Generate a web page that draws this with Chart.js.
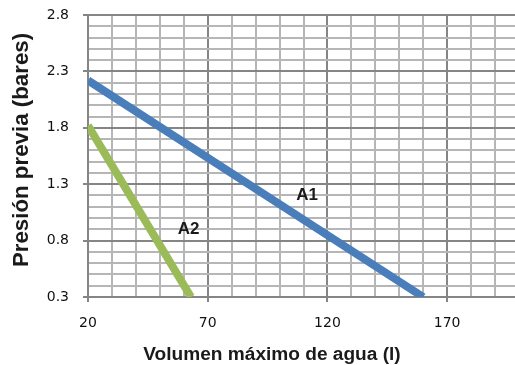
<!DOCTYPE html>
<html>
<head>
<meta charset="utf-8">
<script src="https://cdn.jsdelivr.net/npm/chart.js@4"></script>
<style>
  html, body { margin: 0; padding: 0; background: #fff; overflow: hidden; }
  #wrap { width: 522px; height: 365px; }
</style>
</head>
<body>
<div id="wrap"><canvas id="chart"></canvas></div>
<script>
// series A1 and A2 (volume in litres, pre-pressure in bar)
const a1X = [20, 160];
const a1Y = [2.22, 0.3];
const a2X = [20, 63];
const a2Y = [1.82, 0.3];

const xTickLabels = [20, 70, 120, 170];
const yTickLabels = [0.3, 0.8, 1.3, 1.8, 2.3, 2.8];

const lineNames = ['A1', 'A2'];
const lineNamePos = [[111.5, 1.2], [62, 0.9]];

const xTitle = 'Volumen máximo de agua (l)';
const yTitle = 'Presión previa (bares)';

function isMajor(v, list) {
  return list.some(t => Math.abs(t - v) < 1e-6);
}

// bold font sized so the text spans the given width
function fitFont(ctx, text, width) {
  ctx.font = 'bold 20px "Liberation Sans", Arial, sans-serif';
  const size = 20 * width / ctx.measureText(text).width;
  ctx.font = 'bold ' + size.toFixed(1) + 'px "Liberation Sans", Arial, sans-serif';
}

const labelsPlugin = {
  id: 'labels',
  afterDraw(chart) {
    const ctx = chart.ctx;
    const xs = chart.scales.x, ys = chart.scales.y;
    ctx.save();
    ctx.fillStyle = '#1a1a1a';
    ctx.textAlign = 'center';
    ctx.textBaseline = 'middle';
    ctx.font = 'bold 17px "Liberation Sans", Arial, sans-serif';
    lineNames.forEach((n, i) => {
      ctx.fillText(n, xs.getPixelForValue(lineNamePos[i][0]), ys.getPixelForValue(lineNamePos[i][1]));
    });
    // axis titles
    fitFont(ctx, xTitle, 258);
    ctx.fillText(xTitle, 272, 355);
    fitFont(ctx, yTitle, 234);
    ctx.translate(22, 150);
    ctx.rotate(-Math.PI / 2);
    ctx.fillText(yTitle, 0, 0);
    ctx.restore();
  }
};

new Chart(document.getElementById('chart'), {
  type: 'line',
  data: {
    datasets: [
      {
        label: 'A1',
        data: a1X.map((x, i) => ({ x: x, y: a1Y[i] })),
        borderColor: '#4a7ebb',
        borderWidth: 8,
        pointRadius: 0,
        fill: false
      },
      {
        label: 'A2',
        data: a2X.map((x, i) => ({ x: x, y: a2Y[i] })),
        borderColor: '#9bbb59',
        borderWidth: 8,
        pointRadius: 0,
        fill: false
      }
    ]
  },
  options: {
    responsive: true,
    maintainAspectRatio: false,
    animation: false,
    layout: { padding: { top: 15, right: 3, left: 0, bottom: 0 } },
    plugins: {
      legend: { display: false },
      tooltip: { enabled: false }
    },
    scales: {
      x: {
        type: 'linear',
        min: 20,
        max: 200,
        afterFit(scale) { scale.height = 68; scale.paddingLeft = 0; scale.paddingRight = 0; },
        ticks: {
          stepSize: 10,
          autoSkip: false,
          maxRotation: 0,
          padding: 13,
          color: '#111',
          font: { family: '"DejaVu Sans", Verdana, sans-serif', size: 14 },
          callback: v => isMajor(v, xTickLabels) ? String(v) : ''
        },
        grid: {
          lineWidth: 2,
          color: c => isMajor(c.tick.value, xTickLabels) ? '#858585' : '#b6b6b6',
          tickColor: c => isMajor(c.tick.value, xTickLabels) ? '#858585' : 'rgba(0,0,0,0)',
          tickLength: 5
        },
        border: { color: '#858585', width: 2 }
      },
      y: {
        type: 'linear',
        min: 0.3,
        max: 2.8,
        afterFit(scale) { scale.width = 88; scale.paddingTop = 0; scale.paddingBottom = 0; },
        ticks: {
          stepSize: 0.1,
          autoSkip: false,
          padding: 14,
          color: '#111',
          font: { family: '"DejaVu Sans", Verdana, sans-serif', size: 14 },
          callback: v => isMajor(v, yTickLabels) ? v.toFixed(1) : ''
        },
        grid: {
          lineWidth: 2,
          color: c => isMajor(c.tick.value, yTickLabels) ? '#858585' : '#b6b6b6',
          tickColor: c => isMajor(c.tick.value, yTickLabels) ? '#858585' : 'rgba(0,0,0,0)',
          tickLength: 5
        },
        border: { color: '#858585', width: 2 }
      }
    }
  },
  plugins: [labelsPlugin]
});
</script>
</body>
</html>
